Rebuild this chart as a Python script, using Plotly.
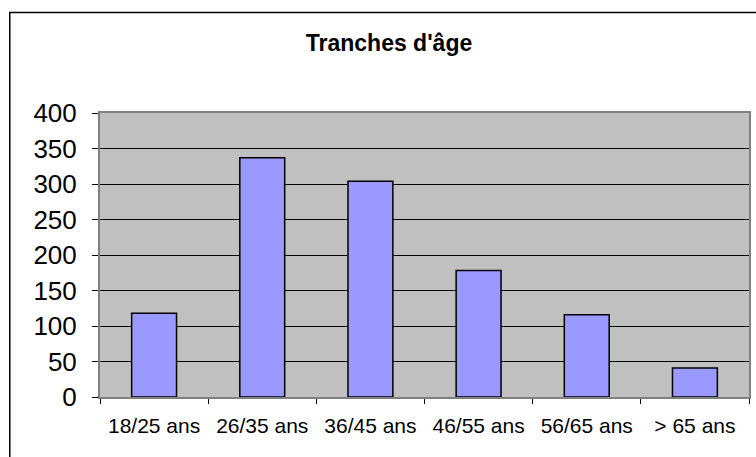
import plotly.graph_objects as go

categories = ['18/25 ans', '26/35 ans', '36/45 ans', '46/55 ans', '56/65 ans', '> 65 ans']
effectifs = [118, 337, 304, 178, 116, 41]

W, H = 756, 457
left, right, top, bottom = 100, 751, 113, 397

fig = go.Figure()

fig.add_trace(go.Bar(
    x=categories, y=effectifs,
    marker=dict(color='#9999FF', line=dict(color='black', width=1.5)),
))

# cadre du graphique (seuls bords haut et gauche visibles)
px = lambda x: (x - left) / (right - left)
py = lambda y: (bottom - y) / (bottom - top)
fig.add_shape(type='rect', xref='paper', yref='paper',
              x0=px(9.5), y0=-1, x1=2, y1=py(12.5),
              line=dict(color='black', width=1.5))

fig.update_layout(
    width=W, height=H,
    margin=dict(l=left, r=W - right, t=top, b=H - bottom),
    paper_bgcolor='white', plot_bgcolor='#C0C0C0',
    showlegend=False, bargap=0.585,
    font=dict(family='Arial, Liberation Sans, sans-serif', color='black'),
    title=dict(text="<b>Tranches d'âge</b>", xref='container', yref='container',
               x=389 / W, y=1 - 43 / H, xanchor='center', yanchor='middle',
               font=dict(size=23, color='black')),
)

fig.update_xaxes(
    showgrid=False, ticks='outside', tickson='boundaries', ticklen=5,
    tickcolor='black', showline=True, linecolor='#808080', linewidth=2, mirror=True,
    tickfont=dict(size=21), ticklabelstandoff=9,
)
fig.update_yaxes(
    range=[0, 400], dtick=50, showgrid=True, gridcolor='black', gridwidth=1,
    ticks='outside', ticklen=6, tickcolor='black',
    showline=True, linecolor='#808080', linewidth=2, mirror=True,
    tickfont=dict(size=26), ticklabelstandoff=10, zeroline=False,
)

fig.write_html('out.html', config={'displayModeBar': False},
               post_script="document.body.style.margin='0';")
